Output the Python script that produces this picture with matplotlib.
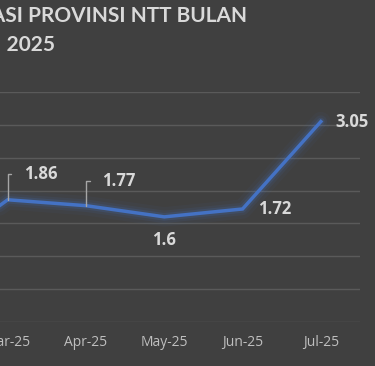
import matplotlib
matplotlib.use("Agg")
import matplotlib.pyplot as plt

# data (Jan/Feb are outside the visible crop, values estimated)
bulan = ["Jan-25", "Feb-25", "Mar-25", "Apr-25", "May-25", "Jun-25", "Jul-25"]
inflasi = [1.35, 1.0, 1.86, 1.77, 1.6, 1.72, 3.05]
judul1 = "INFLASI PROVINSI NTT BULAN"
judul2 = "JANUARI - JULI 2025"

bg = "#404040"
txt = "#d9d9d9"
garis = "#4472c4"

plt.rcParams['font.family'] = ['Open Sans', 'DejaVu Sans']

fig = plt.figure(figsize=(3.75, 3.66), dpi=100, facecolor=bg)
W, H = 375.0, 366.0
# plot area partly outside the figure (chart is cropped on the left)
ax = fig.add_axes([-188 / W, (H - 322) / H, 548 / W, 230 / H], facecolor=bg)

x = list(range(len(bulan)))
ax.set_xlim(-0.5, len(bulan) - 0.5)
ax.set_ylim(0, 3.5)
ax.set_yticks([0, 0.5, 1, 1.5, 2, 2.5, 3, 3.5])
ax.grid(axis='y', color="#5a5a5a", lw=1)
ax.set_axisbelow(True)
for s in ax.spines.values():
    s.set_visible(False)
ax.tick_params(axis='y', left=False, labelleft=False)
ax.tick_params(axis='x', bottom=False, colors="#bfbfbf", labelsize=10, pad=6)
ax.set_xticks(x)
ax.set_xticklabels(bulan)

# glow
for lw, a in [(14, 0.05), (9, 0.09), (5.5, 0.16)]:
    ax.plot(x, inflasi, color=garis, lw=lw, alpha=a, solid_capstyle='round')
ax.plot(x, inflasi, color=garis, lw=2.5, solid_joinstyle='miter')

# label offsets in pixels (dx, dy, ha, leader)
posisi = {
    2: (16, 26, 'left', True),
    3: (16, 25, 'left', True),
    4: (0, -23, 'center', False),
    5: (15, 0, 'left', False),
    6: (15, 0, 'left', False),
}
for i, (dx, dy, ha, leader) in posisi.items():
    v = inflasi[i]
    lab = f"{v:g}"
    if leader:
        ax.annotate(lab, (x[i], v), xytext=(dx, dy), textcoords='offset pixels',
                    ha=ha, va='center', fontsize=12, fontweight='bold', color=txt,
                    arrowprops=dict(arrowstyle='-', color="#a6a6a6", lw=1,
                                    connectionstyle='angle,angleA=0,angleB=90,rad=0',
                                    relpos=(0, 0.5), shrinkA=7, shrinkB=0))
    else:
        ax.annotate(lab, (x[i], v), xytext=(dx, dy), textcoords='offset pixels',
                    ha=ha, va='center', fontsize=12, fontweight='bold', color=txt)

fig.text(247 / W, 1 - 16 / H, judul1, ha='right', va='center', fontsize=15,
         fontweight='bold', color=txt, family=['Lato', 'DejaVu Sans'])
fig.text(55 / W, 1 - 45 / H, judul2, ha='right', va='center', fontsize=15,
         fontweight='bold', color=txt, family=['Lato', 'DejaVu Sans'])

fig.savefig("out.png", dpi=100, facecolor=bg)
